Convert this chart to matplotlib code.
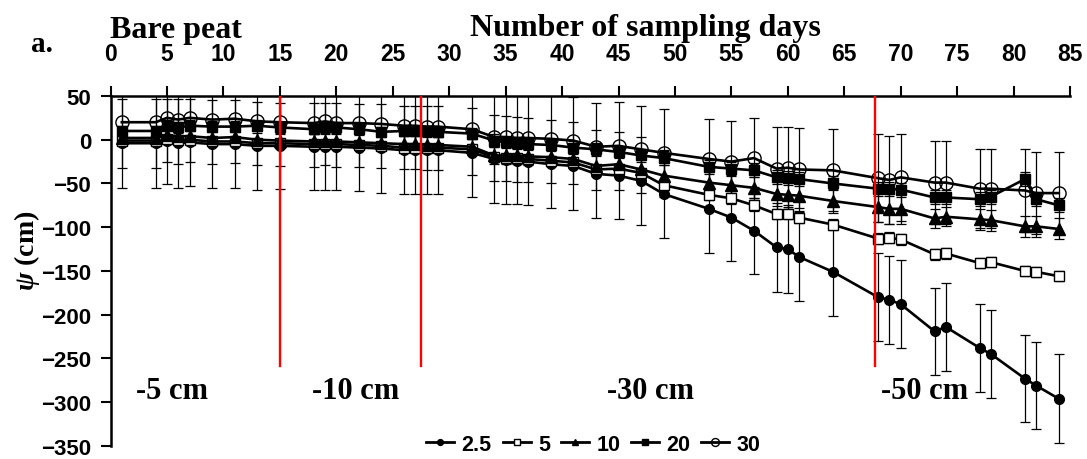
import matplotlib
matplotlib.use("Agg")
import matplotlib.pyplot as plt
from matplotlib.lines import Line2D

# ---------------- data ----------------
days = [1, 4, 5, 6, 7, 9, 11, 13, 15, 18, 19, 20, 22, 24, 26, 27, 28, 29, 32, 34,
        35, 36, 37, 39, 41, 43, 45, 47, 49, 53, 55, 57, 59, 60, 61, 64, 68, 69, 70, 73,
        74, 77, 78, 81, 82, 84]

psi_2_5 = [-4, -4, -2, -4, -3, -5, -5, -7, -7, -8, -8, -8, -9, -10, -12, -12, -12, -12, -15, -22,
           -23, -24, -25, -28, -30, -39, -41, -47, -62, -79, -89, -104, -123, -125, -134, -151, -180, -183, -188, -219,
           -214, -238, -245, -273, -281, -296]
psi_5 = [-1, -1, 1, 0, 0, -2, -2, -4, -4, -5, -5, -5, -6, -7, -9, -9, -9, -9, -11, -20,
         -21, -21, -22, -24, -26, -34, -33, -38, -52, -63, -67, -75, -85, -85, -89, -97, -113, -112, -114, -131,
         -130, -141, -140, -150, -151, -156]
psi_10 = [2, 2, 5, 4, 4, 2, 3, 0, -1, -2, -2, -2, -3, -4, -5, -5, -6, -6, -8, -18,
          -18, -18, -19, -20, -22, -30, -28, -34, -41, -49, -52, -55, -62, -63, -64, -70, -77, -79, -79, -90,
          -88, -91, -92, -99, -99, -102]
psi_20 = [10, 10, 16, 14, 16, 15, 15, 16, 14, 12, 14, 14, 12, 9, 10, 10, 10, 9, 7, -1,
          -3, -4, -5, -6, -9, -11, -14, -18, -21, -31, -33, -35, -43, -44, -45, -50, -56, -56, -57, -66,
          -66, -68, -65, -45, -68, -75]
psi_30 = [20, 20, 25, 23, 25, 23, 24, 21, 20, 19, 21, 19, 19, 18, 16, 16, 15, 15, 12, 3,
          3, 2, 2, 1, -1, -8, -7, -11, -15, -22, -25, -21, -33, -32, -34, -35, -44, -46, -43, -49,
          -49, -56, -56, -58, -61, -61]

err_2_5 = [51, 51, 49, 51, 50, 50, 50, 50, 49, 50, 50, 50, 50, 51, 50, 50, 50, 50, 51, 50,
           50, 50, 50, 50, 50, 50, 50, 50, 50, 50, 50, 50, 51, 50, 50, 50, 50, 50, 50, 50,
           50, 50, 50, 50, 50, 51]
err_5 = [4, 4, 4, 4, 4, 4, 4, 4, 4, 4, 4, 4, 4, 4, 4, 4, 4, 4, 4, 5,
         5, 5, 5, 5, 5, 5, 5, 5, 6, 6, 6, 6, 6, 6, 6, 6, 6, 6, 6, 6,
         6, 6, 6, 6, 6, 6]
err_10 = [8, 8, 8, 8, 8, 8, 8, 8, 8, 8, 8, 8, 8, 8, 9, 9, 9, 9, 9, 10,
          10, 10, 10, 10, 10, 11, 11, 11, 12, 12, 12, 12, 14, 14, 14, 14, 17, 17, 17, 11,
          11, 12, 12, 12, 12, 12]
err_20 = [6, 6, 6, 6, 6, 6, 6, 6, 6, 6, 6, 6, 6, 6, 6, 6, 6, 6, 6, 7,
          7, 7, 7, 7, 7, 7, 7, 7, 8, 8, 8, 8, 8, 8, 8, 8, 8, 8, 8, 8,
          8, 8, 8, 8, 8, 8]
err_30 = [52, 52, 51, 51, 51, 51, 51, 50, 50, 50, 50, 50, 50, 50, 50, 50, 50, 50, 52, 50,
          50, 50, 50, 50, 50, 50, 50, 50, 50, 46, 46, 46, 47, 47, 47, 47, 50, 50, 50, 47,
          47, 45, 45, 47, 47, 47]

depth_labels = ["2.5", "5", "10", "20", "30"]
boundary_days = [15, 27.5, 67.7]
zone_labels = ["-5 cm", "-10 cm", "-30 cm", "-50 cm"]
zone_x = [5.4, 21.7, 47.8, 72.1]
x_ticks = list(range(0, 90, 5))
y_ticks = list(range(-350, 100, 50))

# ---------------- style ----------------
plt.rcParams['mathtext.fontset'] = 'custom'
plt.rcParams['mathtext.it'] = 'Liberation Serif:italic:bold'
plt.rcParams['mathtext.rm'] = 'Liberation Serif:bold'

SANS = 'Liberation Sans'
SERIF = 'Liberation Serif'

fig = plt.figure(figsize=(10.87, 4.6), dpi=100)
ax = fig.add_axes([0.1017, 0.0283, 0.8827, 0.7609])

series = [
    (psi_2_5, err_2_5, dict(marker='o', mfc='black', mec='black', ms=7)),
    (psi_5, err_5, dict(marker='s', mfc='white', mec='black', ms=6.5, mew=1.0)),
    (psi_10, err_10, dict(marker='^', mfc='black', mec='black', ms=8)),
    (psi_20, err_20, dict(marker='s', mfc='black', mec='black', ms=7)),
    (psi_30, err_30, dict(marker='o', mfc='none', mec='black', ms=9.5, mew=1.0)),
]

for vals, errs, mk in series:
    ax.errorbar(days, vals, yerr=errs, fmt='none', ecolor='black', elinewidth=0.9,
                capsize=3.5, capthick=0.9, zorder=2)
for vals, errs, mk in series:
    ax.plot(days, vals, color='black', lw=1.9, zorder=3, **mk)

for bd in boundary_days:
    ax.plot([bd, bd], [50, -259], color='red', lw=1.7, zorder=4)

ax.set_xlim(0, 85)
ax.set_ylim(-350, 50)
ax.set_xticks(x_ticks)
ax.set_yticks(y_ticks)
ax.xaxis.tick_top()
ax.spines['bottom'].set_visible(False)
ax.spines['right'].set_visible(False)
ax.spines['top'].set_linewidth(1.8)
ax.spines['left'].set_linewidth(1.8)
ax.tick_params(axis='x', which='both', direction='out', length=7, width=1.5, pad=15,
               labelsize=16.5)
ax.tick_params(axis='y', direction='out', length=7, width=1.5, pad=7, labelsize=16)
for lab in ax.get_xticklabels() + ax.get_yticklabels():
    lab.set_fontfamily(SANS)
    lab.set_fontweight('bold')

ax.set_ylabel(r'$\psi$ (cm)', fontsize=20, fontfamily=SERIF, fontweight='bold')
ax.yaxis.set_label_coords(-0.087, 0.56)
ax.yaxis.label.set_va('center')

fig.text(0.5934, 0.9217, 'Number of sampling days', ha='center', va='baseline',
         fontsize=23, fontfamily=SERIF, fontweight='bold')
fig.text(0.162, 0.917, 'Bare peat', ha='center', va='baseline',
         fontsize=23, fontfamily=SERIF, fontweight='bold')
fig.text(0.039, 0.887, 'a.', ha='center', va='baseline',
         fontsize=21, fontfamily=SERIF, fontweight='bold')

for zl, zx in zip(zone_labels, zone_x):
    ax.text(zx, -287, zl, ha='center', va='center', fontsize=22, fontfamily=SERIF,
            fontweight='bold', zorder=5)

handles = []
for (vals, errs, mk), lab in zip(series, depth_labels):
    small = dict(mk)
    small['ms'] = mk['ms'] * 0.6
    handles.append(Line2D([0], [0], color='black', lw=2.0, label=lab, **small))
leg = fig.legend(handles=handles, loc='center', bbox_to_anchor=(0.546, 0.032), ncol=5,
                 frameon=False, handlelength=1.3, handletextpad=0.35, columnspacing=0.5,
                 prop=dict(family=SANS, weight='bold', size=15.5))

fig.savefig('out.png', dpi=100)
